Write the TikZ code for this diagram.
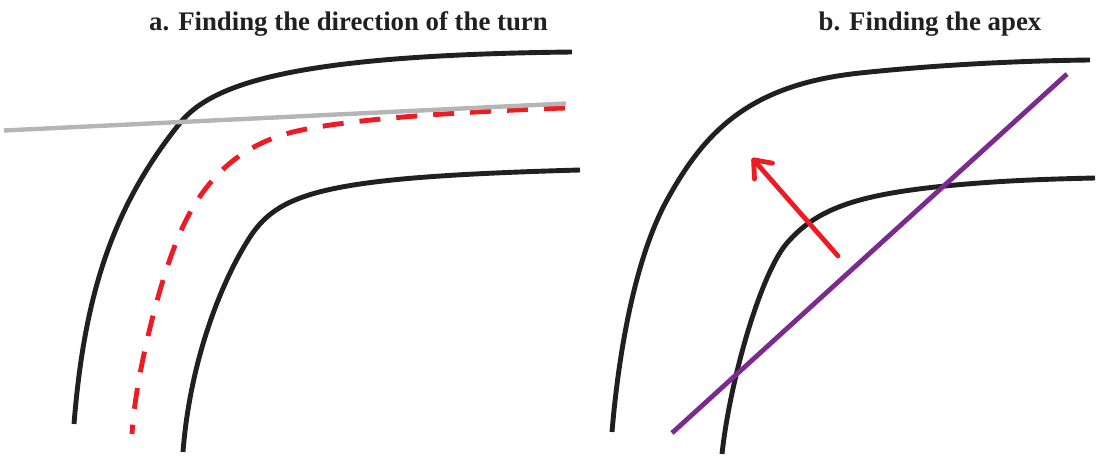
\documentclass[tikz,border=0pt]{standalone}
\usepackage{fontspec}
\setmainfont{Liberation Serif}
\usetikzlibrary{arrows.meta}
\definecolor{roadblack}{HTML}{231F20}
\definecolor{linered}{HTML}{ED1C24}
\definecolor{linegray}{HTML}{B5B5B5}
\definecolor{linepurple}{HTML}{7B2A90}
\tikzset{
  road/.style={draw=roadblack, line width=4.9pt, line cap=butt},
  racing/.style={draw=linered, line width=4.9pt, dash pattern=on 21pt off 16pt},
  guide/.style={draw=linegray, line width=4.4pt},
  apexline/.style={draw=linepurple, line width=4.8pt},
  turnarrow/.style={draw=linered, line width=4.8pt, line cap=round, -{Straight Barb[length=15pt,width=24pt,round]}},
  title/.style={font=\fontsize{26.8}{32}\selectfont\bfseries, text=roadblack, inner sep=0pt, anchor=base}
}
\begin{document}
\begin{tikzpicture}[x=1pt,y=-1pt]
\useasboundingbox (0,0) rectangle (1108,457);
% titles
\node[title] (ta) at (348.5,31) {a. Finding the direction of the turn};
\node[title] (tb) at (930,31) {b. Finding the apex};
% panel a
\draw[road] (74,424) .. controls (84,300) and (110,210) .. (180,123)
  .. controls (213,82) and (300,55) .. (572,52);
\draw[road] (183,452) .. controls (190,360) and (222,280) .. (250,237)
  .. controls (280,191) and (330,177) .. (580,170);
\draw[racing] (565,108) .. controls (450,112) and (341.5,119.9) .. (293,132)
  .. controls (240,145.4) and (204,178) .. (180,233)
  .. controls (158,284) and (135,380) .. (132,434);
\coordinate (gl) at (4,130.5);
\coordinate (gr) at (566,103.5);
\draw[guide] (gl) -- (gr);
% panel b
\draw[road] (612,432) .. controls (618,360) and (633.3,261.4) .. (667,200)
  .. controls (705.5,130) and (750.7,84.6) .. (860,73)
  .. controls (920,66.7) and (1000,61) .. (1090,60);
\draw[road] (722,454) .. controls (730,380) and (760.8,273.2) .. (787,243)
  .. controls (816.5,209) and (856,195) .. (945,186)
  .. controls (1000,180.5) and (1050,179) .. (1095,178);
\coordinate (pl) at (672,433);
\coordinate (pr) at (1067,74);
\draw[apexline] (pl) -- (pr);
\coordinate (at) at (838,256);
\coordinate (ah) at (752,158);
\draw[turnarrow] (at) -- (ah);
\end{tikzpicture}
\end{document}
